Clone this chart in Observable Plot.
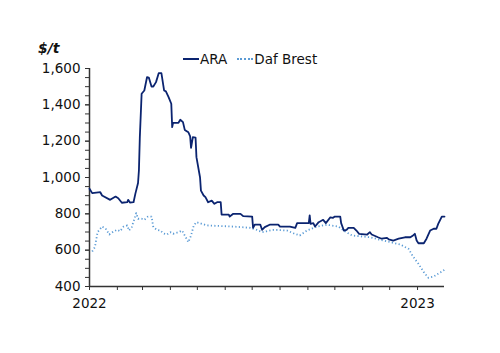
<!DOCTYPE html>
<html>
<head>
<meta charset="utf-8">
<script src="https://cdn.jsdelivr.net/npm/d3@7"></script>
<script src="https://cdn.jsdelivr.net/npm/@observablehq/plot@0.6"></script>
<style>
  html, body { margin: 0; padding: 0; background: #fff; }
  #wrap { position: relative; width: 500px; height: 353px; font-family: "DejaVu Sans", sans-serif; }
  #unit { position: absolute; left: 38px; top: 40px; font-size: 14px; font-weight: bold; font-style: italic; color: #111; }
  #legend { position: absolute; left: 183px; top: 51px; font-size: 13.5px; color: #111; display: flex; align-items: center; white-space: nowrap; }
  .sw { display: inline-block; width: 16px; height: 0; margin-right: 1px; }
</style>
</head>
<body>
<div id="wrap">
  <div id="chart"></div>
  <div id="unit">$/t</div>
  <div id="legend">
    <span class="sw" style="border-top:2px solid #0b2470"></span><span>ARA</span>
    <span class="sw" style="border-top:2px dotted #5b9bd5;margin-left:10px"></span><span>Daf Brest</span>
  </div>
</div>
<script>
const araDates = ["2022-01-01","2022-01-04","2022-01-13","2022-01-15","2022-01-24","2022-01-30","2022-02-02","2022-02-06","2022-02-12","2022-02-13","2022-02-15","2022-02-19","2022-02-21","2022-02-24","2022-02-25","2022-02-26","2022-02-28","2022-03-03","2022-03-06","2022-03-08","2022-03-11","2022-03-13","2022-03-16","2022-03-19","2022-03-22","2022-03-25","2022-03-27","2022-03-30","2022-04-02","2022-04-03","2022-04-04","2022-04-10","2022-04-12","2022-04-15","2022-04-17","2022-04-21","2022-04-23","2022-04-24","2022-04-26","2022-04-29","2022-04-30","2022-05-04","2022-05-05","2022-05-08","2022-05-10","2022-05-13","2022-05-17","2022-05-20","2022-05-23","2022-05-27","2022-05-28","2022-06-05","2022-06-06","2022-06-10","2022-06-18","2022-06-21","2022-07-01","2022-07-02","2022-07-04","2022-07-10","2022-07-12","2022-07-15","2022-07-21","2022-07-30","2022-08-01","2022-08-12","2022-08-18","2022-08-20","2022-09-02","2022-09-03","2022-09-04","2022-09-07","2022-09-09","2022-09-13","2022-09-15","2022-09-18","2022-09-21","2022-09-26","2022-09-29","2022-10-01","2022-10-07","2022-10-08","2022-10-11","2022-10-14","2022-10-16","2022-10-22","2022-10-25","2022-10-28","2022-11-06","2022-11-09","2022-11-11","2022-11-18","2022-11-22","2022-11-28","2022-11-30","2022-12-05","2022-12-11","2022-12-18","2022-12-24","2022-12-27","2022-12-29","2022-12-31","2023-01-02","2023-01-08","2023-01-11","2023-01-15","2023-01-19","2023-01-22","2023-01-24","2023-01-28","2023-01-31"];
const araValues = [938,914,919,901,877,895,886,861,864,877,862,864,910,970,1040,1222,1461,1479,1552,1550,1501,1501,1525,1574,1574,1479,1474,1442,1406,1277,1301,1301,1318,1305,1262,1249,1226,1163,1222,1220,1112,1000,928,901,892,864,873,855,864,864,796,796,785,800,800,787,785,723,741,741,712,727,741,741,730,730,723,749,749,791,745,749,730,754,759,767,749,781,778,785,785,749,708,712,723,723,708,690,686,699,686,671,663,668,659,653,663,671,671,681,690,653,638,638,663,708,718,718,745,785,785];

const dafDates = ["2022-01-04","2022-01-07","2022-01-10","2022-01-15","2022-01-19","2022-01-23","2022-01-28","2022-02-01","2022-02-04","2022-02-08","2022-02-12","2022-02-14","2022-02-17","2022-02-22","2022-02-24","2022-02-28","2022-03-03","2022-03-07","2022-03-11","2022-03-13","2022-03-17","2022-03-21","2022-03-24","2022-03-28","2022-04-01","2022-04-04","2022-04-10","2022-04-14","2022-04-17","2022-04-21","2022-04-24","2022-04-27","2022-04-30","2022-05-06","2022-05-12","2022-06-10","2022-06-29","2022-07-06","2022-07-12","2022-07-17","2022-07-25","2022-08-09","2022-08-16","2022-08-23","2022-08-31","2022-09-11","2022-09-22","2022-10-05","2022-10-12","2022-10-20","2022-11-09","2022-11-24","2022-12-13","2022-12-22","2022-12-27","2023-01-02","2023-01-08","2023-01-13","2023-01-19","2023-01-24","2023-01-31"];
const dafValues = [593,617,699,730,718,686,704,712,704,730,736,708,727,804,773,773,767,785,785,727,712,708,693,686,699,690,699,708,681,644,681,736,754,745,736,730,723,712,699,704,712,708,693,681,708,730,740,730,704,681,671,653,631,607,565,525,479,448,455,470,492];

const yMajor = [400,600,800,1000,1200,1400,1600];
const yMinor = d3.range(400, 1601, 50);
const xLabels = {"2022-01-01": "2022", "2023-01-01": "2023"};

const parse = d3.utcParse("%Y-%m-%d");
const ara = araDates.map((d, i) => ({date: parse(d), value: araValues[i]}));
const daf = dafDates.map((d, i) => ({date: parse(d), value: dafValues[i]}));
const x0 = parse("2022-01-01"), x1 = parse("2023-01-31");
const monthTicks = d3.utcMonths(x0, parse("2023-01-02"));
const fmt = d3.utcFormat("%Y-%m-%d");

const chart = Plot.plot({
  width: 500,
  height: 353,
  marginLeft: 89,
  marginRight: 56,
  marginTop: 68,
  marginBottom: 67,
  style: {fontFamily: "DejaVu Sans, sans-serif", fontSize: "13.5px", color: "#111", background: "#fff"},
  x: {type: "utc", domain: [x0, x1], label: null},
  y: {domain: [400, 1600], label: null},
  marks: [
    Plot.axisY({ticks: yMinor, tickSize: 4, tickFormat: () => "", stroke: "#333", label: null}),
    Plot.axisY({ticks: yMajor, tickSize: 4, tickPadding: 5, tickFormat: d3.format(","), stroke: "#333", fontSize: 13.5, label: null}),
    Plot.axisX({ticks: monthTicks, tickSize: 4, tickPadding: 8, tickFormat: d => xLabels[fmt(d)] || "", stroke: "#333", fontSize: 13.5, label: null}),
    Plot.ruleX([x0], {stroke: "#333", strokeWidth: 1.5}),
    Plot.ruleY([400], {stroke: "#333", strokeWidth: 1.5}),
    Plot.line(daf, {x: "date", y: "value", stroke: "#5b9bd5", strokeWidth: 1.8, strokeDasharray: "1.2,2.3", strokeLinecap: "butt"}),
    Plot.line(ara, {x: "date", y: "value", stroke: "#0b2470", strokeWidth: 1.8})
  ]
});
document.getElementById("chart").appendChild(chart);
</script>
</body>
</html>
